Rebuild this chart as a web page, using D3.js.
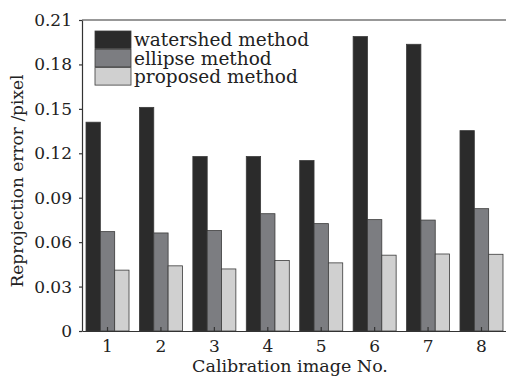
<!DOCTYPE html>
<html>
<head>
<meta charset="utf-8">
<script src="https://cdnjs.cloudflare.com/ajax/libs/d3/7.8.5/d3.min.js"></script>
<style>
  body { margin: 0; background: #fff; }
  svg { display: block; }
  text { font-family: "DejaVu Serif", serif; fill: #222; }
</style>
</head>
<body>
<svg id="chart" width="506" height="377"></svg>
<script>
var images = ["1", "2", "3", "4", "5", "6", "7", "8"];
var seriesNames = ["watershed method", "ellipse method", "proposed method"];
var watershed = [0.141, 0.151, 0.1178, 0.1178, 0.1151, 0.1988, 0.1936, 0.1353];
var ellipse = [0.0671, 0.0662, 0.0678, 0.0792, 0.0725, 0.0752, 0.0749, 0.0826];
var proposed = [0.0411, 0.0440, 0.0419, 0.0476, 0.0460, 0.0512, 0.0520, 0.0518];
var yTicks = [0, 0.03, 0.06, 0.09, 0.12, 0.15, 0.18, 0.21];

var colors = ["#2b2b2b", "#7c7d81", "#d0d0d0"];

var rows = images.map(function(d, i) {
  return {img: d, values: [watershed[i], ellipse[i], proposed[i]]};
});

var svg = d3.select("#chart"),
    margin = {top: 20, right: -1, bottom: 46, left: 82},
    width = 506 - margin.left - margin.right,
    height = 377 - margin.top - margin.bottom,
    g = svg.append("g").attr("transform", "translate(" + margin.left + "," + margin.top + ")");

var x0 = d3.scaleBand()
    .domain(images)
    .range([0, width])
    .paddingInner(0.195)
    .paddingOuter(0.075);

var x1 = d3.scaleBand()
    .domain(seriesNames)
    .range([0, x0.bandwidth()]);

var y = d3.scaleLinear()
    .domain([0, 0.21])
    .range([height, 0]);

// frame top line
g.append("line")
    .attr("x1", 0).attr("x2", width + 2)
    .attr("y1", 0).attr("y2", 0)
    .attr("stroke", "#333").attr("stroke-width", 1.2);

g.selectAll(".group")
  .data(rows)
  .enter().append("g")
    .attr("class", "group")
    .attr("transform", function(d) { return "translate(" + x0(d.img) + ",0)"; })
  .selectAll("rect")
  .data(function(d) { return d.values.map(function(v, i) { return {key: seriesNames[i], value: v, i: i}; }); })
  .enter().append("rect")
    .attr("x", function(d) { return x1(d.key); })
    .attr("y", function(d) { return y(d.value); })
    .attr("width", x1.bandwidth())
    .attr("height", function(d) { return height - y(d.value); })
    .attr("fill", function(d) { return colors[d.i]; })
    .attr("stroke", "#3a3a3a")
    .attr("stroke-width", 0.8);

var xAxis = g.append("g")
    .attr("transform", "translate(0," + height + ")")
    .call(d3.axisBottom(x0).tickSizeInner(-4).tickSizeOuter(0).tickPadding(9));

var yAxis = g.append("g")
    .call(d3.axisLeft(y).tickValues(yTicks).tickSizeInner(3).tickSizeOuter(0).tickPadding(7)
      .tickFormat(function(d) { return d === 0 ? "0" : d3.format(".2f")(d); }));

[xAxis, yAxis].forEach(function(a) {
  a.selectAll("path, line").attr("stroke", "#333").attr("stroke-width", 1.2);
  a.selectAll("text").attr("fill", "#222").style("font-size", "17px").style("font-family", "DejaVu Serif, serif");
});

svg.append("text")
    .attr("x", 290)
    .attr("y", 372)
    .attr("text-anchor", "middle")
    .style("font-size", "17.5px")
    .text("Calibration image No.");

svg.append("text")
    .attr("transform", "translate(23,181) rotate(-90)")
    .attr("text-anchor", "middle")
    .style("font-size", "17px")
    .text("Reprojection error /pixel");

var legend = svg.selectAll(".legend")
  .data(seriesNames)
  .enter().append("g")
    .attr("class", "legend")
    .attr("transform", function(d, i) { return "translate(95," + (31 + i * 18.3) + ")"; });

legend.append("rect")
    .attr("width", 36)
    .attr("height", 17.5)
    .attr("fill", function(d, i) { return colors[i]; })
    .attr("stroke", "#3a3a3a")
    .attr("stroke-width", 0.8);

legend.append("text")
    .attr("x", 39)
    .attr("y", 9)
    .attr("dy", "0.35em")
    .style("font-size", "18.5px")
    .text(function(d) { return d; });
</script>
</body>
</html>
